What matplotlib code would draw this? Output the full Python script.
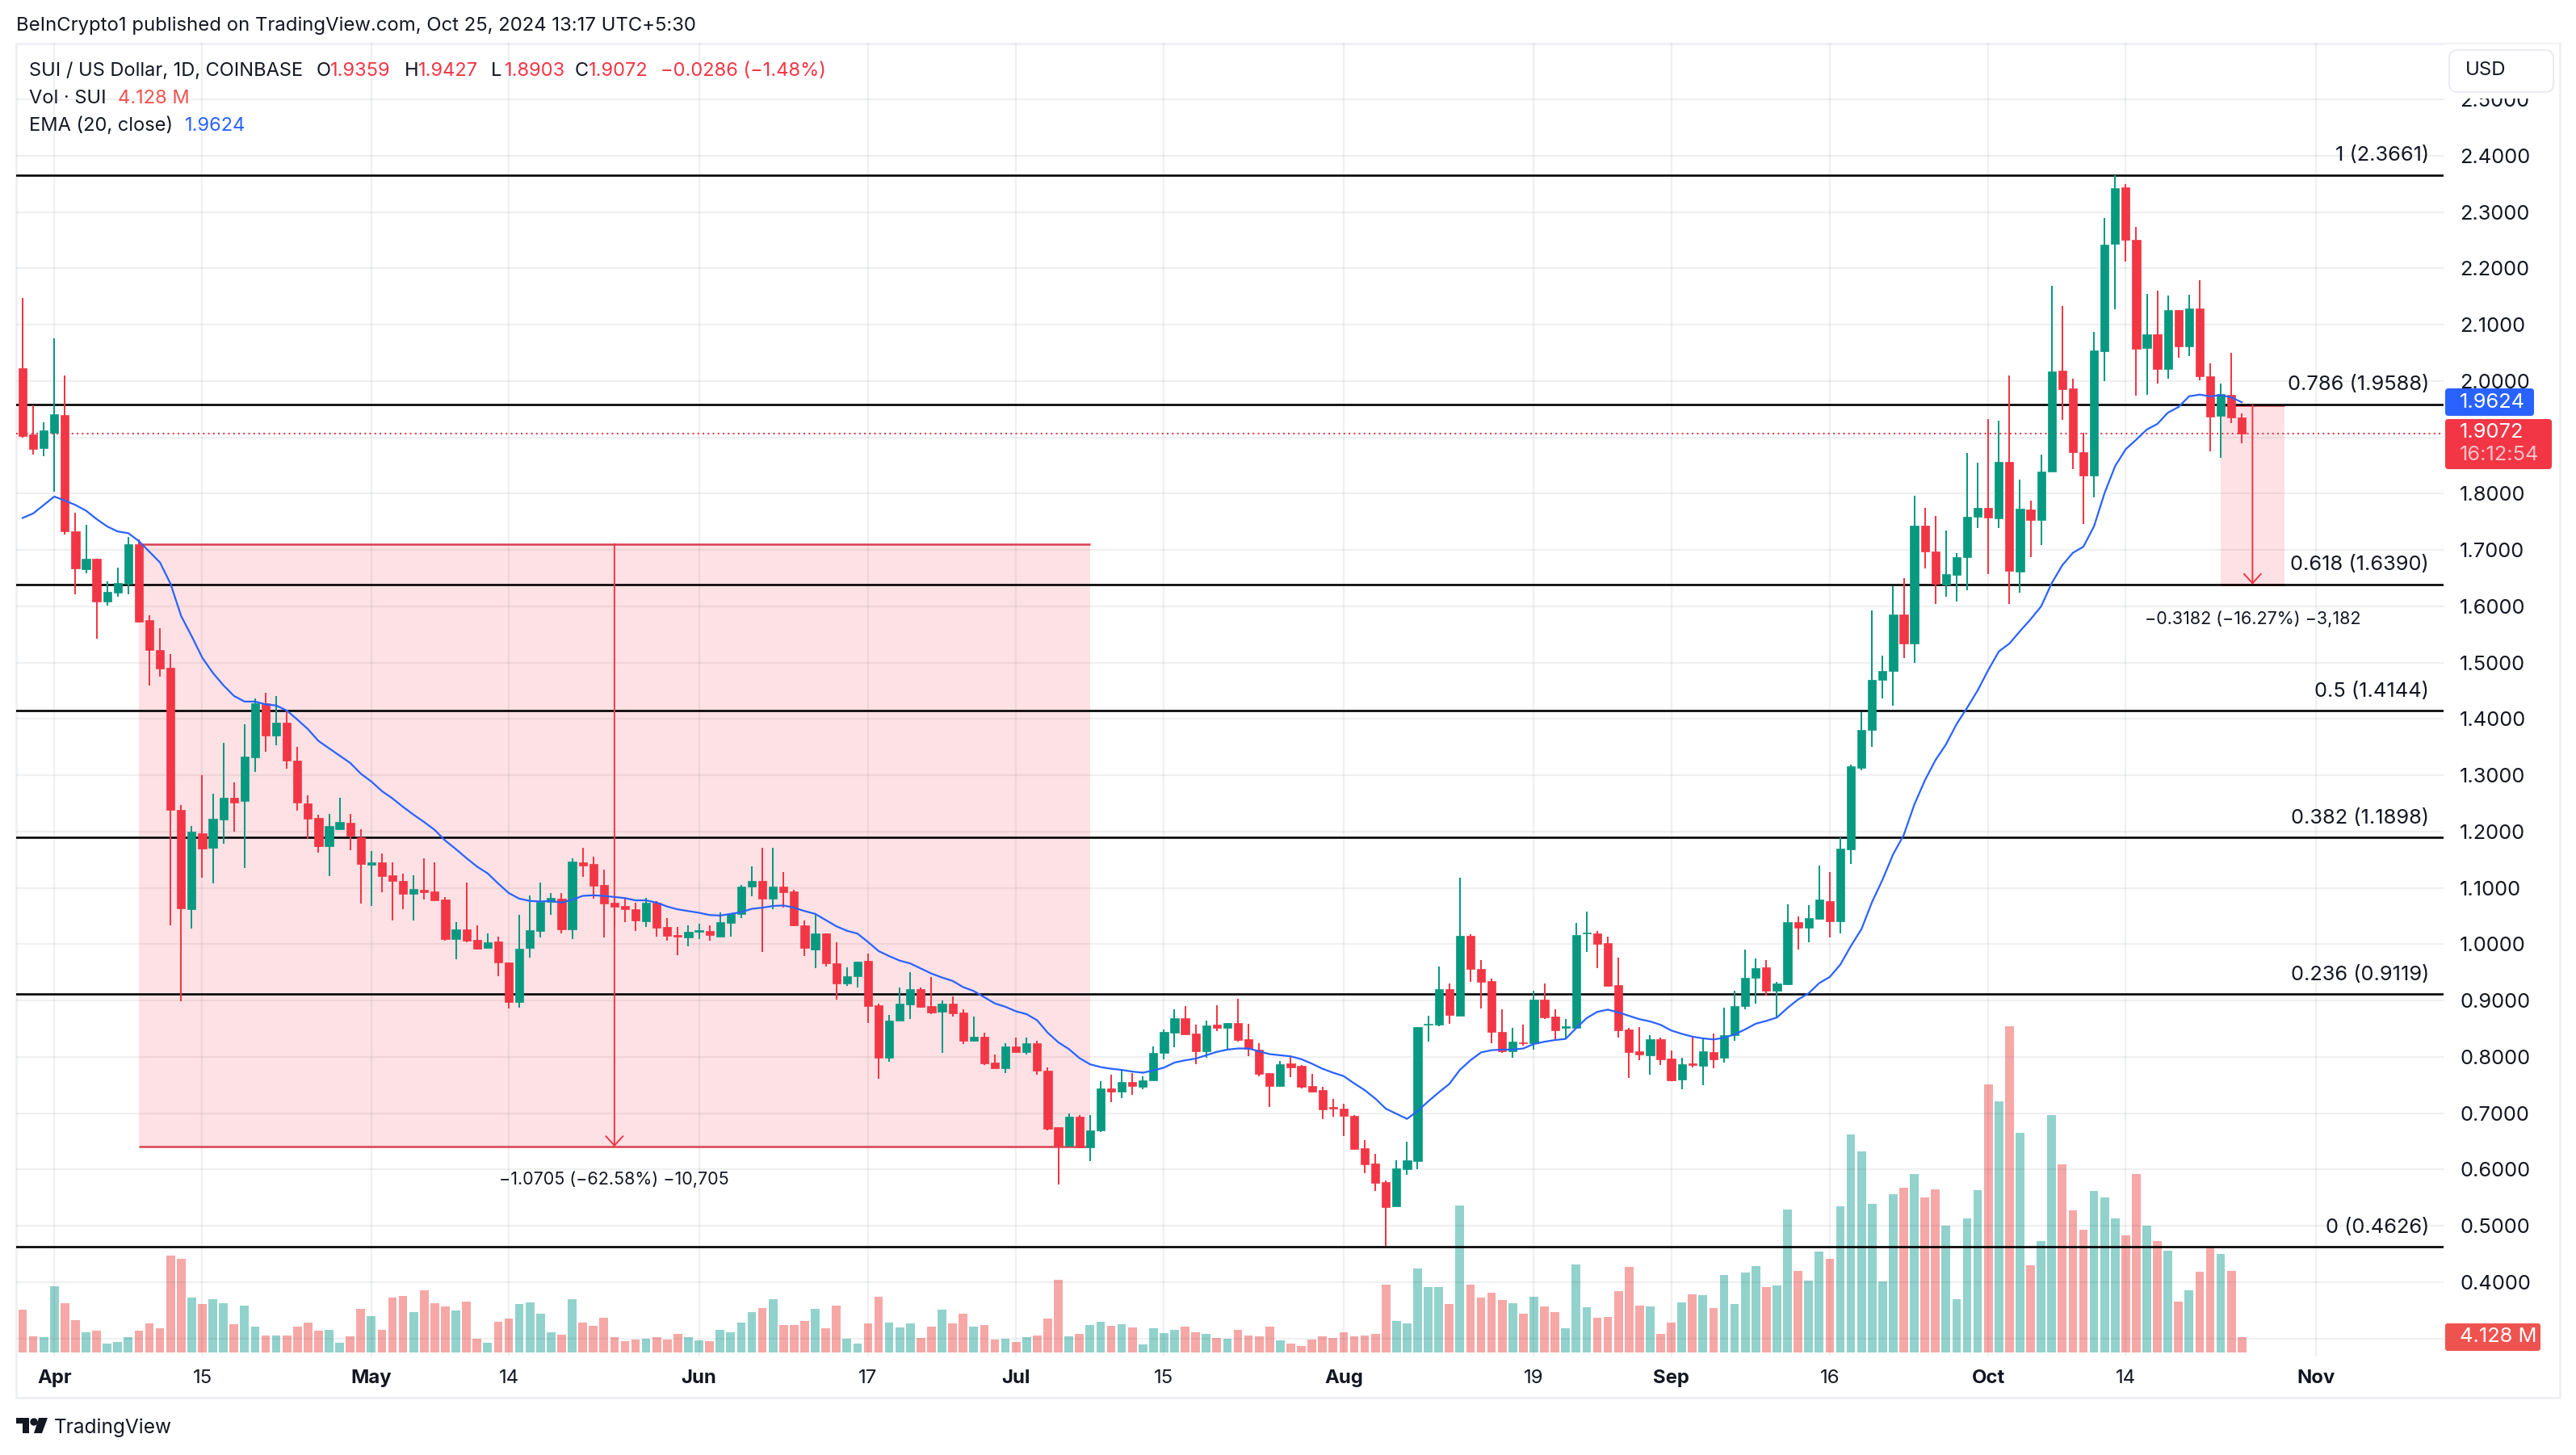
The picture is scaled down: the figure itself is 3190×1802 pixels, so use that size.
import matplotlib.pyplot as plt
from matplotlib.patches import FancyBboxPatch, Rectangle, Polygon, Circle
from matplotlib.transforms import IdentityTransform
import numpy as np

UP = "#089981"
DOWN = "#f23645"
BLUE = "#2962ff"
W, H = 3190, 1802

opens = [
    2.023, 1.906, 1.881, 1.908, 1.940, 1.734, 1.666, 1.684, 1.608, 1.624,
    1.640, 1.710, 1.576, 1.522, 1.491, 1.239, 1.063, 1.197, 1.172, 1.222,
    1.260, 1.254, 1.332, 1.428, 1.370, 1.394, 1.326, 1.250, 1.224, 1.174,
    1.204, 1.216, 1.190, 1.141, 1.145, 1.122, 1.112, 1.090, 1.097, 1.094,
    1.080, 1.009, 1.027, 1.008, 0.993, 1.005, 0.968, 0.897, 0.993, 1.024,
    1.075, 1.081, 1.027, 1.146, 1.142, 1.105, 1.074, 1.068, 1.063, 1.041,
    1.074, 1.031, 1.016, 1.012, 1.022, 1.023, 1.014, 1.038, 1.054, 1.103,
    1.113, 1.081, 1.103, 1.094, 1.033, 0.991, 1.019, 0.966, 0.930, 0.944,
    0.970, 0.892, 0.799, 0.864, 0.893, 0.920, 0.890, 0.880, 0.895, 0.879,
    0.829, 0.836, 0.790, 0.780, 0.818, 0.809, 0.824, 0.776, 0.675, 0.642,
    0.694, 0.640, 0.670, 0.744, 0.738, 0.755, 0.747, 0.758, 0.807, 0.843,
    0.869, 0.842, 0.810, 0.857, 0.851, 0.860, 0.831, 0.813, 0.771, 0.748,
    0.788, 0.784, 0.749, 0.741, 0.711, 0.708, 0.695, 0.638, 0.611, 0.578,
    0.535, 0.601, 0.615, 0.857, 0.857, 0.920, 0.873, 1.015, 0.956, 0.935,
    0.844, 0.810, 0.826, 0.824, 0.902, 0.871, 0.852, 0.852, 1.019, 1.019,
    1.002, 0.927, 0.849, 0.810, 0.803, 0.832, 0.797, 0.760, 0.788, 0.784,
    0.809, 0.798, 0.838, 0.890, 0.940, 0.959, 0.918, 0.929, 1.040, 1.029,
    1.045, 1.077, 1.041, 1.169, 1.313, 1.380, 1.470, 1.485, 1.585, 1.534,
    1.743, 1.697, 1.639, 1.656, 1.687, 1.759, 1.775, 1.756, 1.856, 1.662,
    1.772, 1.754, 1.839, 2.019, 1.987, 1.874, 1.832, 2.053, 2.243, 2.344,
    2.251, 2.059, 2.083, 2.022, 2.126, 2.062, 2.129, 2.008, 1.938, 1.975,
    1.9359,
]
highs = [
    2.148, 1.957, 1.927, 2.076, 2.010, 1.767, 1.745, 1.684, 1.645, 1.669,
    1.723, 1.719, 1.584, 1.561, 1.515, 1.247, 1.210, 1.301, 1.268, 1.357,
    1.288, 1.391, 1.437, 1.447, 1.441, 1.417, 1.350, 1.265, 1.230, 1.231,
    1.260, 1.231, 1.205, 1.166, 1.161, 1.146, 1.125, 1.122, 1.152, 1.145,
    1.084, 1.040, 1.110, 1.033, 1.020, 1.014, 0.968, 1.052, 1.087, 1.109,
    1.091, 1.091, 1.152, 1.172, 1.155, 1.133, 1.082, 1.082, 1.074, 1.082,
    1.077, 1.047, 1.031, 1.033, 1.036, 1.034, 1.057, 1.055, 1.106, 1.138,
    1.172, 1.172, 1.129, 1.097, 1.043, 1.054, 1.020, 1.003, 0.959, 0.969,
    0.984, 0.895, 0.874, 0.924, 0.951, 0.924, 0.942, 0.900, 0.907, 0.884,
    0.871, 0.843, 0.805, 0.824, 0.834, 0.835, 0.829, 0.782, 0.675, 0.700,
    0.697, 0.697, 0.757, 0.769, 0.779, 0.772, 0.766, 0.819, 0.849, 0.884,
    0.891, 0.857, 0.864, 0.892, 0.860, 0.903, 0.859, 0.825, 0.771, 0.793,
    0.801, 0.785, 0.770, 0.747, 0.726, 0.717, 0.697, 0.653, 0.628, 0.581,
    0.617, 0.650, 0.853, 0.873, 0.961, 0.931, 1.118, 1.018, 0.972, 0.939,
    0.884, 0.851, 0.857, 0.918, 0.931, 0.884, 0.867, 1.038, 1.058, 1.023,
    1.014, 0.977, 0.851, 0.853, 0.838, 0.835, 0.812, 0.799, 0.836, 0.834,
    0.841, 0.887, 0.918, 0.991, 0.975, 0.972, 0.933, 1.071, 1.049, 1.069,
    1.140, 1.129, 1.190, 1.319, 1.412, 1.593, 1.512, 1.636, 1.650, 1.797,
    1.775, 1.760, 1.735, 1.694, 1.873, 1.855, 1.933, 1.930, 2.010, 1.825,
    1.788, 1.870, 2.169, 2.134, 2.005, 1.908, 2.088, 2.289, 2.366, 2.350,
    2.274, 2.155, 2.161, 2.152, 2.126, 2.154, 2.179, 2.032, 1.996, 2.050,
    1.9427,
]
lows = [
    1.900, 1.869, 1.866, 1.804, 1.727, 1.621, 1.659, 1.543, 1.602, 1.617,
    1.621, 1.572, 1.459, 1.475, 1.034, 0.899, 1.028, 1.118, 1.108, 1.179,
    1.200, 1.136, 1.306, 1.342, 1.354, 1.312, 1.237, 1.187, 1.163, 1.121,
    1.204, 1.167, 1.073, 1.068, 1.093, 1.043, 1.063, 1.042, 1.080, 1.078,
    1.006, 0.974, 1.003, 0.991, 0.993, 0.943, 0.886, 0.887, 0.976, 1.012,
    1.052, 1.020, 1.010, 1.120, 1.081, 1.012, 1.031, 1.040, 1.023, 1.031,
    1.014, 1.007, 0.981, 0.996, 1.010, 1.007, 1.014, 1.013, 1.047, 1.085,
    0.987, 1.063, 1.065, 1.032, 0.979, 0.958, 0.960, 0.902, 0.926, 0.923,
    0.860, 0.762, 0.792, 0.864, 0.867, 0.888, 0.876, 0.807, 0.871, 0.823,
    0.827, 0.786, 0.780, 0.772, 0.807, 0.805, 0.768, 0.670, 0.574, 0.642,
    0.638, 0.615, 0.666, 0.720, 0.727, 0.732, 0.743, 0.758, 0.795, 0.817,
    0.840, 0.787, 0.798, 0.846, 0.813, 0.827, 0.801, 0.766, 0.711, 0.747,
    0.764, 0.744, 0.737, 0.689, 0.694, 0.659, 0.636, 0.594, 0.562, 0.464,
    0.535, 0.591, 0.601, 0.827, 0.855, 0.859, 0.873, 0.934, 0.886, 0.824,
    0.807, 0.799, 0.820, 0.813, 0.868, 0.832, 0.832, 0.851, 0.986, 0.958,
    0.926, 0.834, 0.763, 0.794, 0.768, 0.785, 0.757, 0.743, 0.781, 0.750,
    0.780, 0.790, 0.829, 0.885, 0.895, 0.909, 0.869, 0.928, 0.991, 1.003,
    1.044, 1.012, 1.019, 1.143, 1.309, 1.350, 1.436, 1.424, 1.508, 1.499,
    1.668, 1.604, 1.617, 1.608, 1.629, 1.739, 1.658, 1.739, 1.605, 1.624,
    1.688, 1.709, 1.839, 1.931, 1.843, 1.746, 1.794, 2.000, 2.127, 2.212,
    1.974, 1.975, 1.996, 2.005, 2.041, 2.045, 2.001, 1.875, 1.864, 1.925,
    1.8903,
]
closes = [
    1.903, 1.880, 1.913, 1.941, 1.734, 1.668, 1.684, 1.608, 1.626, 1.642,
    1.710, 1.573, 1.522, 1.489, 1.239, 1.064, 1.200, 1.170, 1.223, 1.260,
    1.252, 1.334, 1.428, 1.370, 1.394, 1.326, 1.251, 1.223, 1.174, 1.210,
    1.217, 1.193, 1.143, 1.145, 1.121, 1.112, 1.090, 1.098, 1.093, 1.078,
    1.010, 1.026, 1.006, 0.992, 1.003, 0.968, 0.897, 0.992, 1.025, 1.075,
    1.083, 1.027, 1.147, 1.140, 1.104, 1.073, 1.067, 1.063, 1.042, 1.074,
    1.030, 1.015, 1.014, 1.022, 1.025, 1.017, 1.039, 1.054, 1.103, 1.113,
    1.081, 1.103, 1.092, 1.033, 0.993, 1.019, 0.966, 0.930, 0.943, 0.969,
    0.890, 0.798, 0.864, 0.895, 0.920, 0.889, 0.879, 0.895, 0.877, 0.829,
    0.836, 0.788, 0.780, 0.818, 0.808, 0.824, 0.775, 0.672, 0.642, 0.694,
    0.640, 0.670, 0.744, 0.738, 0.755, 0.748, 0.758, 0.807, 0.845, 0.869,
    0.840, 0.810, 0.856, 0.851, 0.860, 0.830, 0.814, 0.770, 0.748, 0.787,
    0.782, 0.747, 0.738, 0.707, 0.708, 0.695, 0.637, 0.610, 0.577, 0.534,
    0.602, 0.616, 0.853, 0.859, 0.920, 0.874, 1.015, 0.956, 0.934, 0.844,
    0.810, 0.827, 0.824, 0.902, 0.870, 0.848, 0.854, 1.016, 1.021, 1.000,
    0.926, 0.847, 0.809, 0.804, 0.832, 0.796, 0.759, 0.787, 0.785, 0.810,
    0.796, 0.838, 0.891, 0.940, 0.958, 0.918, 0.931, 1.040, 1.029, 1.046,
    1.079, 1.041, 1.170, 1.316, 1.380, 1.470, 1.485, 1.585, 1.534, 1.743,
    1.697, 1.640, 1.657, 1.688, 1.759, 1.775, 1.757, 1.856, 1.663, 1.773,
    1.754, 1.840, 2.017, 1.986, 1.874, 1.832, 2.054, 2.242, 2.343, 2.251,
    2.057, 2.083, 2.022, 2.126, 2.062, 2.129, 2.008, 1.937, 1.977, 1.935,
    1.9072,
]
ema20 = [
    1.757, 1.765, 1.780, 1.795, 1.788, 1.780, 1.770, 1.755, 1.742, 1.733,
    1.730, 1.716, 1.697, 1.678, 1.640, 1.583, 1.547, 1.509, 1.482, 1.460,
    1.441, 1.431, 1.431, 1.426, 1.424, 1.415, 1.399, 1.382, 1.361, 1.348,
    1.335, 1.322, 1.303, 1.289, 1.272, 1.259, 1.244, 1.230, 1.217, 1.203,
    1.184, 1.169, 1.153, 1.138, 1.126, 1.108, 1.091, 1.081, 1.077, 1.076,
    1.077, 1.074, 1.079, 1.086, 1.087, 1.086, 1.084, 1.082, 1.078, 1.078,
    1.074, 1.067, 1.062, 1.059, 1.056, 1.052, 1.051, 1.054, 1.057, 1.063,
    1.065, 1.068, 1.069, 1.065, 1.059, 1.054, 1.043, 1.032, 1.024, 1.019,
    1.004, 0.988, 0.979, 0.971, 0.966, 0.957, 0.948, 0.941, 0.935, 0.924,
    0.917, 0.906, 0.895, 0.889, 0.881, 0.876, 0.865, 0.843, 0.826, 0.814,
    0.798, 0.787, 0.782, 0.779, 0.777, 0.774, 0.772, 0.776, 0.781, 0.790,
    0.794, 0.797, 0.803, 0.809, 0.813, 0.815, 0.815, 0.810, 0.805, 0.803,
    0.801, 0.796, 0.788, 0.779, 0.772, 0.766, 0.753, 0.741, 0.726, 0.708,
    0.699, 0.690, 0.704, 0.721, 0.737, 0.752, 0.777, 0.794, 0.808, 0.812,
    0.813, 0.813, 0.815, 0.823, 0.827, 0.830, 0.832, 0.851, 0.869, 0.880,
    0.884, 0.879, 0.873, 0.867, 0.863, 0.857, 0.847, 0.841, 0.836, 0.833,
    0.831, 0.834, 0.840, 0.849, 0.859, 0.864, 0.870, 0.887, 0.902, 0.913,
    0.931, 0.942, 0.964, 0.997, 1.027, 1.075, 1.115, 1.160, 1.194, 1.248,
    1.291, 1.327, 1.355, 1.391, 1.420, 1.451, 1.487, 1.520, 1.534, 1.556,
    1.577, 1.600, 1.641, 1.673, 1.695, 1.706, 1.742, 1.801, 1.849, 1.879,
    1.896, 1.914, 1.924, 1.944, 1.954, 1.973, 1.976, 1.973, 1.975, 1.971,
    1.9624,
]
volumes = [  # in millions of SUI
    11.5, 4.4, 4.1, 17.9, 13.4, 8.7, 5.4, 5.8, 2.3, 2.8,
    4.2, 5.8, 7.9, 6.6, 26.1, 25.3, 14.8, 13.1, 14.4, 13.3,
    7.7, 12.7, 6.9, 4.5, 4.5, 4.5, 7.0, 8.0, 5.8, 6.1,
    2.7, 4.4, 11.7, 9.8, 6.1, 14.8, 15.3, 10.9, 16.8, 13.3,
    12.5, 11.3, 13.8, 3.8, 2.7, 8.3, 9.1, 13.2, 13.5, 10.4,
    5.4, 4.8, 14.4, 8.0, 7.2, 9.4, 4.2, 3.1, 3.4, 3.8,
    4.2, 3.4, 5.0, 4.2, 3.3, 3.0, 6.1, 5.4, 8.0, 10.9,
    12.0, 14.4, 7.4, 7.4, 8.5, 11.7, 6.6, 12.7, 3.8, 2.4,
    7.9, 15.1, 8.1, 6.7, 7.9, 3.9, 7.0, 11.6, 7.9, 10.4,
    6.9, 7.5, 3.6, 3.8, 2.9, 4.1, 4.6, 9.2, 19.6, 4.4,
    5.0, 7.5, 8.4, 7.3, 7.7, 6.8, 2.2, 6.6, 5.2, 6.1,
    6.9, 5.5, 5.1, 3.9, 3.8, 6.1, 4.6, 4.4, 7.0, 3.3,
    2.5, 1.7, 3.6, 4.4, 3.9, 5.5, 4.4, 4.6, 5.1, 18.4,
    8.6, 7.9, 22.7, 17.7, 17.7, 13.2, 39.7, 18.4, 14.8, 16.2,
    14.2, 13.4, 10.4, 15.1, 12.5, 10.9, 6.6, 23.7, 12.3, 9.3,
    9.5, 16.5, 23.2, 12.7, 12.5, 5.0, 8.1, 13.6, 15.8, 15.5,
    12.1, 20.9, 13.2, 21.7, 23.4, 17.6, 18.2, 38.6, 22.1, 19.4,
    27.3, 25.3, 39.5, 58.9, 54.3, 40.2, 19.2, 42.7, 44.5, 48.2,
    41.9, 44.1, 34.3, 14.5, 36.3, 43.9, 72.4, 67.9, 88.2, 59.4,
    23.5, 30.1, 64.2, 50.9, 38.4, 33.1, 43.6, 41.9, 36.3, 31.7,
    48.2, 34.3, 30.1, 27.6, 13.7, 16.9, 21.8, 28.2, 26.7, 22.1,
    4.128,
]

fib_ratios = ["1", "0.786", "0.618", "0.5", "0.382", "0.236", "0"]
fib_prices = [2.3661, 1.9588, 1.6390, 1.4144, 1.1898, 0.9119, 0.4626]

date_ticks = [3, 17, 33, 46, 64, 80, 94, 108, 125, 143, 156, 171, 186, 199, 217]  # candle index
date_labels = ["Apr", "15", "May", "14", "Jun", "17", "Jul", "15", "Aug", "19", "Sep", "16", "Oct", "14", "Nov"]
price_ticks = [0.3, 0.4, 0.5, 0.6, 0.7, 0.8, 0.9, 1.0, 1.1, 1.2, 1.3, 1.4, 1.5, 1.6, 1.7, 1.8, 1.9, 2.0, 2.1, 2.2, 2.3, 2.4, 2.5]


def px_text(x, y, s, **kwargs):
    """Text placed by its position in image pixels."""
    kwargs.setdefault("color", "#131722")
    kwargs.setdefault("fontsize", 8.5)
    kwargs.setdefault("va", "center")
    plt.figtext(x / W, 1 - y / H, s, zorder=8, **kwargs)


def px_box(x0, y0, x1, y1, color, edge="none", radius=6):
    """Rounded box given in image pixels."""
    box = FancyBboxPatch((x0 + radius, H - y1 + radius), x1 - x0 - 2 * radius, y1 - y0 - 2 * radius,
                         boxstyle=f"round,pad={radius}", facecolor=color, edgecolor=edge, linewidth=0.6,
                         transform=IdentityTransform(), zorder=6)
    plt.gcf().add_artist(box)


def draw_logo():
    plt.gcf().add_artist(Polygon([(20, H - 1756), (36, H - 1756), (36, H - 1775), (28, H - 1775), (28, H - 1763), (20, H - 1763)],
                                 facecolor="#131722", edgecolor="none", transform=IdentityTransform()))
    plt.gcf().add_artist(Circle((42, H - 1761), 4.7, facecolor="#131722", edgecolor="none", transform=IdentityTransform()))
    plt.gcf().add_artist(Polygon([(48, H - 1756), (59, H - 1756), (52, H - 1775), (42, H - 1775)],
                                 facecolor="#131722", edgecolor="none", transform=IdentityTransform()))


def draw_measure(x0, x1, top, bottom, label, label_price):
    middle = (x0 + x1) / 2
    plt.gca().add_patch(Rectangle((x0, bottom), x1 - x0, top - bottom, facecolor=DOWN, alpha=0.145, edgecolor="none", zorder=1))
    plt.hlines([top, bottom], x0, x1, color="#d9404f", linewidth=0.9, zorder=1.5)
    plt.annotate("", xy=(middle, bottom), xytext=(middle, top),
                 arrowprops=dict(arrowstyle="->,head_length=0.42,head_width=0.38", color=DOWN, linewidth=0.7, shrinkA=0, shrinkB=0),
                 zorder=2.5)
    plt.text(middle, label_price, label, ha="center", va="center", fontsize=7.75, color="#131722")


def draw_chart():
    plt.rcParams["font.family"] = ["Inter", "DejaVu Sans"]
    plt.figure(figsize=(W / 200, H / 200), dpi=200)
    x = np.arange(len(closes))
    o, h, l, c = map(np.array, (opens, highs, lows, closes))
    rising = c >= o
    colors = np.where(rising, UP, DOWN)
    vol_colors = np.where(rising, "#26a69a", "#ef5350")

    rect = [20 / W, 1 - 1680 / H, 3006 / W, 1627 / H]  # pane in image pixels

    # 出来高は下のAxesに描く
    ax_vol = plt.axes(rect, zorder=1)
    plt.bar(x, volumes, width=0.82, color=vol_colors, alpha=0.5, linewidth=0)
    plt.xlim(-0.61, 229.08)
    plt.ylim(-1.09, 354.1)
    plt.axis("off")

    ax = plt.axes(rect, zorder=2)
    ax.patch.set_alpha(0)
    plt.xlim(-0.61, 229.08)
    plt.ylim(0.2681, 2.6007)
    plt.grid(color="#2a2e39", alpha=0.07, linewidth=0.8, zorder=0)
    ax.set_axisbelow(True)

    draw_measure(11, 101, 1.7110, 0.6405, "\u22121.0705 (\u221262.58%) \u221210,705", 0.582)
    draw_measure(208, 214, 1.9572, 1.6390, "\u22120.3182 (\u221216.27%) \u22123,182", 1.578)

    for ratio, price in zip(fib_ratios, fib_prices):
        plt.axhline(price, color="black", linewidth=0.95, zorder=2)
        plt.annotate(f"{ratio} ({price:.4f})", (227.7, price), xytext=(0, 8.6), textcoords="offset points",
                     ha="right", va="center", fontsize=9.15, color="#131722")

    plt.axhline(closes[-1], color="#e0404f", linewidth=0.75, linestyle=(0, (1.0, 2.0)), zorder=2)

    plt.vlines(x, l, h, color=colors, linewidth=0.72, zorder=3)
    plt.bar(x, c - o, bottom=o, width=0.78, color=colors, edgecolor=colors, linewidth=0.25, zorder=3.2)
    plt.plot(x, ema20, color=BLUE, linewidth=0.8, zorder=4)  # EMA 20

    tick_text = [f"{p:.4f}" if p not in (0.3, 1.9) else "" for p in price_ticks]
    plt.yticks(price_ticks, tick_text, fontsize=9.15, color="#131722")
    plt.xticks(date_ticks, date_labels, fontsize=8.6, color="#131722")
    ax.yaxis.tick_right()
    ax.tick_params(length=0)
    ax.tick_params(axis="y", pad=7.2)
    ax.tick_params(axis="x", pad=5.8)
    for label in ax.get_xticklabels():
        if not label.get_text().isdigit():
            label.set_fontweight("bold")
    for spine in ax.spines.values():
        spine.set_visible(False)

    # 外枠
    plt.gcf().add_artist(Rectangle((20, H - 1731), 3150, 1677, facecolor="none", edgecolor="#eef0f3", linewidth=1.0,
                                   transform=IdentityTransform()))

    px_text(20, 32, "BeInCrypto1 published on TradingView.com, Oct 25, 2024 13:17 UTC+5:30", fontsize=8.6)

    px_text(36, 88, "SUI / US Dollar, 1D, COINBASE")
    for xpos, head, value in [(392, "O", "1.9359"), (501, "H", "1.9427"), (608, "L", "1.8903"), (712, "C", "1.9072")]:
        px_text(xpos, 88, head)
        px_text(xpos + 17, 88, value, color=DOWN)
    px_text(818, 88, "\u22120.0286 (\u22121.48%)", color=DOWN)
    px_text(36, 122, "Vol \u00b7 SUI")
    px_text(146, 122, "4.128 M", color="#ef5350")
    px_text(36, 156, "EMA (20, close)")
    px_text(229, 156, "1.9624", color=BLUE)

    # USDボタンの下は白で隠れる
    plt.gcf().add_artist(Rectangle((3028, H - 122), 141, 67, facecolor="white", edgecolor="none",
                                   transform=IdentityTransform(), zorder=5))
    px_box(3033, 62, 3162, 114, "white", edge="#e6e8ee", radius=10)
    px_text(3053, 87, "USD", fontsize=8.6)

    px_box(3028, 481, 3138, 515, BLUE, radius=4)
    px_text(3046, 498, "1.9624", color="white", fontsize=9.15)
    px_box(3028, 519, 3160, 581, DOWN, radius=4)
    px_text(3046, 536, "1.9072", color="white", fontsize=9.15)
    px_text(3046, 564, "16:12:54", color="#fbc3c8", fontsize=9.15)
    px_box(3028, 1639, 3146, 1673, "#ef5350", radius=3)
    px_text(3046, 1656, "4.128 M", color="white", fontsize=9.15)

    draw_logo()
    px_text(67, 1768, "TradingView", fontsize=8.8)

    plt.savefig("out.png", dpi=200)


if __name__ == "__main__":
    draw_chart()
